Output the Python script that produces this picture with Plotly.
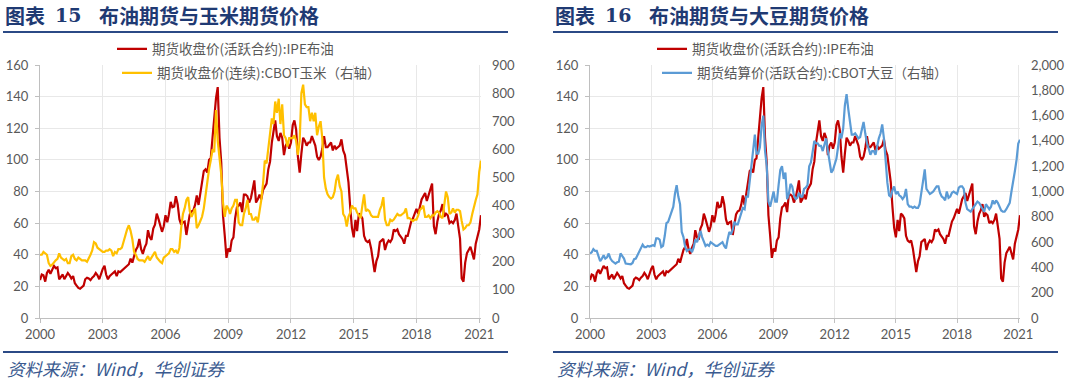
import pandas as pd
import plotly.graph_objects as go

# ---------------- data (monthly, Jan 2000 - Feb 2021) ----------------
start_month = "2000-01-01"

brent = [
    24.0, 27.5, 27.0, 23.0, 28.5, 30.5, 28.0, 31.0, 33.0, 31.5, 32.0, 24.5,
    26.0, 27.5, 24.5, 26.5, 28.5, 27.0, 25.0, 26.5, 22.0, 20.5, 19.0, 18.5,
    19.5, 20.5, 24.5, 25.5, 25.0, 24.0, 25.5, 26.5, 28.5, 27.0, 24.5, 28.5,
    31.0, 33.0, 27.5, 24.5, 26.5, 27.5, 28.5, 29.5, 26.5, 29.5, 29.0, 30.0,
    31.0, 31.5, 33.0, 34.0, 37.5, 35.0, 39.0, 43.0, 45.0, 50.0, 43.5, 40.5,
    44.5, 47.0, 55.5, 51.0, 49.5, 56.5, 59.0, 66.0, 62.5, 58.5, 54.5, 58.0,
    65.0, 60.5, 65.5, 73.5, 70.0, 70.5, 77.0, 72.0, 62.5, 59.0, 60.5, 61.0,
    52.5, 59.5, 65.5, 67.5, 68.0, 71.5, 77.5, 71.5, 78.5, 86.5, 93.0, 94.0,
    92.0, 100.0, 101.0, 114.0, 127.0, 139.0, 146.0, 114.0, 98.0, 65.0, 52.0, 38.0,
    44.0, 42.0, 49.0, 51.0, 63.0, 70.0, 71.0, 73.0, 67.0, 78.0, 78.0, 77.0,
    73.0, 76.0, 81.0, 87.0, 73.0, 75.0, 78.0, 75.0, 81.0, 83.0, 85.0, 94.0,
    99.0, 111.0, 117.0, 125.0, 115.0, 112.0, 117.0, 114.0, 103.0, 109.0, 111.0, 107.0,
    111.0, 122.0, 125.0, 119.0, 102.0, 92.0, 104.0, 114.0, 112.0, 109.0, 111.0, 111.0,
    115.0, 112.0, 109.0, 102.0, 100.0, 102.0, 107.0, 115.0, 108.0, 108.0, 110.0, 111.0,
    106.0, 109.0, 107.0, 108.0, 109.0, 113.0, 106.0, 103.0, 95.0, 86.0, 70.0, 57.0,
    51.0, 62.0, 55.0, 66.0, 65.0, 63.0, 52.0, 49.0, 48.0, 49.0, 44.0, 37.0,
    29.0, 36.0, 39.0, 48.0, 49.0, 50.0, 43.0, 47.0, 49.0, 48.0, 50.0, 56.0,
    55.0, 56.0, 53.0, 51.0, 50.0, 47.0, 52.0, 52.0, 57.0, 61.0, 63.0, 66.0,
    69.0, 66.0, 70.0, 75.0, 77.0, 79.0, 74.0, 78.0, 82.0, 85.0, 58.0, 53.0,
    61.0, 66.0, 68.0, 72.0, 64.0, 66.0, 65.0, 60.0, 61.0, 60.0, 62.0, 66.0,
    58.0, 50.0, 25.0, 23.0, 35.0, 41.0, 43.0, 45.0, 41.0, 37.0, 47.0, 51.0,
    56.0, 65.0,
]

corn = [
    225, 225, 235, 230, 225, 195, 185, 190, 200, 205, 210, 230,
    215, 210, 205, 210, 195, 195, 220, 225, 210, 205, 215, 210,
    205, 205, 205, 200, 210, 225, 240, 270, 265, 250, 245, 240,
    235, 235, 240, 240, 245, 240, 220, 235, 230, 245, 245, 250,
    275, 295, 315, 330, 310, 280, 235, 225, 210, 205, 205, 205,
    200, 210, 220, 205, 215, 225, 235, 215, 205, 200, 195, 215,
    220, 225, 230, 245, 245, 235, 240, 230, 250, 320, 370, 390,
    420, 430, 380, 360, 375, 390, 320, 330, 345, 360, 390, 440,
    490, 530, 560, 600, 590, 740, 630, 560, 510, 410, 360, 400,
    390, 370, 390, 400, 420, 420, 340, 330, 330, 370, 390, 420,
    370, 370, 350, 350, 360, 340, 380, 420, 480, 560, 550, 600,
    640, 710, 690, 770, 730, 780, 690, 760, 650, 640, 610, 640,
    640, 640, 650, 630, 580, 630, 800, 830, 760, 750, 750, 700,
    730, 700, 730, 650, 680, 700, 640, 500, 460, 440, 430, 425,
    430, 450, 490, 510, 470, 450, 370, 360, 325, 360, 375, 400,
    390, 390, 375, 365, 355, 400, 440, 380, 385, 380, 365, 360,
    360, 360, 360, 385, 400, 430, 350, 330, 330, 350, 345, 350,
    360, 370, 365, 365, 370, 375, 390, 355, 355, 350, 345, 350,
    350, 365, 385, 390, 400, 360, 360, 365, 355, 365, 365, 375,
    380, 375, 360, 355, 400, 450, 430, 370, 375, 390, 375, 385,
    385, 380, 345, 315, 320, 330, 330, 340, 370, 400, 420, 440,
    520, 560,
]

soybean = [
    510, 520, 545, 530, 530, 490, 450, 470, 495, 470, 480, 510,
    470, 450, 440, 430, 440, 445, 510, 490, 470, 430, 430, 430,
    425, 435, 465, 470, 500, 520, 560, 580, 560, 560, 570, 565,
    570, 575, 570, 630, 630, 620, 560, 570, 650, 750, 760, 800,
    830, 880, 980, 1050, 960, 900, 680, 640, 560, 530, 540, 545,
    520, 560, 620, 600, 640, 690, 640, 600, 570, 580, 570, 600,
    590, 580, 570, 570, 580, 590, 600, 570, 550, 620, 680, 660,
    700, 760, 740, 740, 790, 830, 870, 860, 960, 960, 1080, 1180,
    1280, 1450, 1300, 1300, 1350, 1520, 1600, 1320, 1200, 920, 880, 940,
    1000, 920, 920, 1050, 1170, 1200, 1100, 1150, 940, 980, 1060, 1040,
    970, 940, 950, 990, 960, 960, 1020, 1030, 1050, 1200, 1230, 1310,
    1400, 1380, 1380, 1360, 1360, 1320, 1360, 1420, 1320, 1220, 1150, 1170,
    1220, 1260, 1350, 1460, 1420, 1500, 1680, 1770, 1650, 1540, 1450, 1450,
    1460, 1440, 1420, 1430, 1500, 1550, 1460, 1380, 1340, 1290, 1320, 1320,
    1290, 1360, 1420, 1460, 1530, 1420, 1200, 1070, 970, 960, 1010, 1040,
    980, 1000, 970, 960, 940, 960, 1020, 900, 880, 880, 870, 880,
    870, 870, 900, 1010, 1080, 1175, 1020, 1000, 980, 990, 1000, 1020,
    1040, 1040, 990, 960, 950, 930, 1000, 950, 960, 990, 1000, 990,
    980, 1030, 1040, 1040, 1020, 910, 860, 850, 840, 860, 880, 900,
    920, 910, 890, 870, 840, 900, 880, 860, 880, 930, 900, 930,
    910, 880, 850, 840, 840, 860, 890, 910, 1000, 1070, 1160, 1250,
    1380, 1410,
]

year_ticks = ["2000", "2003", "2006", "2009", "2012", "2015", "2018", "2021"]

name_brent = "期货收盘价(活跃合约):IPE布油"
name_corn = "期货收盘价(连续):CBOT玉米（右轴）"
name_soy = "期货结算价(活跃合约):CBOT大豆（右轴）"

dates = pd.date_range(start=start_month, periods=len(brent), freq="MS")

# ---------------- styles ----------------
W, H = 1080, 380
RED = "#C00000"
YELLOW = "#FFC000"
BLUE = "#5B9BD5"
NAVY = "#2B4A86"
TICK = "#595959"
GRID = "#E8E8E8"
AXIS = "#BFBFBF"
TICKFONT = dict(family="Lato, 'DejaVu Sans', sans-serif", size=13, color=TICK)
CJK = "'Noto Sans CJK SC', sans-serif"


def px_x(x):
    return x / W


def px_y(y):
    return 1 - y / H


y_dom = [px_y(318), px_y(65)]
left_dom = [px_x(40), px_x(481)]
right_dom = [px_x(590), px_x(1020)]

fig = go.Figure()
fig.add_trace(go.Scatter(x=dates, y=brent, name=name_brent, mode="lines",
                         line=dict(color=RED, width=2.2), xaxis="x", yaxis="y",
                         legend="legend"))
fig.add_trace(go.Scatter(x=dates, y=corn, name=name_corn, mode="lines",
                         line=dict(color=YELLOW, width=2.2), xaxis="x", yaxis="y2",
                         legend="legend2"))
fig.add_trace(go.Scatter(x=dates, y=brent, name=name_brent, mode="lines",
                         line=dict(color=RED, width=2.2), xaxis="x2", yaxis="y3",
                         legend="legend3"))
fig.add_trace(go.Scatter(x=dates, y=soybean, name=name_soy, mode="lines",
                         line=dict(color=BLUE, width=2.2), xaxis="x2", yaxis="y4",
                         legend="legend4"))

tickvals = [pd.Timestamp(f"{t}-01-01") for t in year_ticks]
x_range = [dates[0], dates[-1]]

xcommon = dict(type="date", range=x_range, tickvals=tickvals, ticktext=year_ticks,
               showgrid=True, gridcolor=GRID, gridwidth=1, showline=True,
               linecolor=AXIS, linewidth=1, ticks="outside", ticklen=4,
               tickcolor=AXIS, tickfont=TICKFONT, zeroline=False, fixedrange=True)
yleft = dict(range=[0, 160], dtick=20, tick0=0, showgrid=True, gridcolor=GRID,
             gridwidth=1, showline=True, linecolor=AXIS, linewidth=1,
             ticks="outside", ticklen=4, tickcolor=AXIS, tickfont=TICKFONT,
             zeroline=False, domain=y_dom, ticklabelstandoff=4)

legend_base = dict(bgcolor="rgba(0,0,0,0)", borderwidth=0,
                   font=dict(family=CJK, size=13.5, color=TICK),
                   xanchor="left", yanchor="middle", itemwidth=30,
                   orientation="v")

fig.update_layout(
    width=W, height=H,
    margin=dict(l=0, r=0, t=0, b=0, autoexpand=False),
    paper_bgcolor="white", plot_bgcolor="white",
    xaxis=dict(domain=left_dom, anchor="y", **xcommon),
    yaxis=dict(anchor="x", **yleft),
    yaxis2=dict(anchor="x", overlaying="y", side="right", range=[0, 900],
                dtick=100, tick0=0, showgrid=False, showline=False, ticks="",
                tickfont=TICKFONT, zeroline=False, ticklabelstandoff=10),
    xaxis2=dict(domain=right_dom, anchor="y3", **xcommon),
    yaxis3=dict(anchor="x2", **yleft),
    yaxis4=dict(anchor="x2", overlaying="y3", side="right", range=[0, 2000],
                dtick=200, tick0=0, showgrid=False, showline=False, ticks="",
                tickformat=",d", tickfont=TICKFONT, zeroline=False,
                ticklabelstandoff=10),
    legend=dict(x=px_x(112), y=px_y(49), **legend_base),
    legend2=dict(x=px_x(117), y=px_y(73), **legend_base),
    legend3=dict(x=px_x(652), y=px_y(49), **legend_base),
    legend4=dict(x=px_x(657), y=px_y(73), **legend_base),
    showlegend=True,
)

# header / footer rules
shapes = []
for x0, x1 in [(3, 508), (553, 1058)]:
    for yy in (32, 352):
        shapes.append(dict(type="line", xref="paper", yref="paper",
                           x0=px_x(x0), x1=px_x(x1), y0=px_y(yy), y1=px_y(yy),
                           line=dict(color=NAVY, width=2)))
fig.update_layout(shapes=shapes)

title_font = dict(family=CJK, size=20, color="#1F3A73", weight="bold")
annos = []
for x0, num, text in [(3, "15", "布油期货与玉米期货价格"),
                      (553, "16", "布油期货与大豆期货价格")]:
    annos.append(dict(text="图表", x=px_x(x0), y=px_y(15), xref="paper", yref="paper",
                      xanchor="left", yanchor="middle", showarrow=False, font=title_font))
    annos.append(dict(text=num, x=px_x(x0 + 50), y=px_y(15), xref="paper", yref="paper",
                      xanchor="left", yanchor="middle", showarrow=False,
                      font=dict(family="'DejaVu Serif', serif", size=19,
                                color="#1F3A73", weight="bold")))
    annos.append(dict(text=text, x=px_x(x0 + 94), y=px_y(15), xref="paper", yref="paper",
                      xanchor="left", yanchor="middle", showarrow=False, font=title_font))
    annos.append(dict(text="资料来源：Wind，华创证券", x=px_x(x0 + 2), y=px_y(368),
                      xref="paper", yref="paper", xanchor="left", yanchor="middle",
                      showarrow=False,
                      font=dict(family=CJK, size=17.5, color="#3A5A90", style="italic")))
fig.update_layout(annotations=annos)

fig.write_html("out.html",
               config={"displayModeBar": False},
               post_script="document.body.style.margin='0px';"
                           "document.body.style.overflow='hidden';")
